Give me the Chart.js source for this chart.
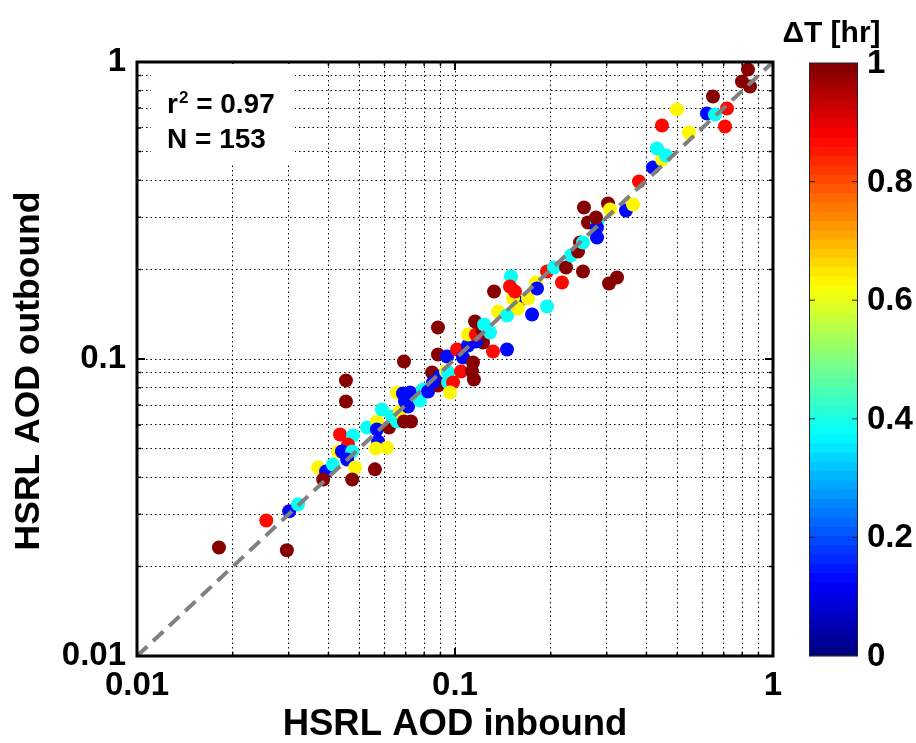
<!DOCTYPE html>
<html>
<head>
<meta charset="utf-8">
<script src="https://cdn.jsdelivr.net/npm/chart.js@4.4.1/dist/chart.umd.min.js"></script>
<style>
  html, body { margin: 0; padding: 0; background: #fff; }
  canvas { display: block; }
</style>
</head>
<body>
<canvas id="c" width="916" height="743"></canvas>
<script>
// ---------------- data ----------------
const inboundAOD = [
  0.0181, 0.0255, 0.0301, 0.0321, 0.0296, 0.0371, 0.0393, 0.0385, 0.0413, 0.0435,
  0.0478, 0.0461, 0.0429, 0.0441, 0.0475, 0.0458, 0.0485, 0.0475, 0.0454, 0.0454,
  0.0529, 0.0568, 0.0568, 0.0573, 0.0564, 0.0611, 0.0560, 0.0589, 0.0620, 0.0634,
  0.0657, 0.0671, 0.0691, 0.0727, 0.0712, 0.0776, 0.0657, 0.0686, 0.0722, 0.0696,
  0.0793, 0.0823, 0.0847, 0.0897, 0.0937, 0.0951, 0.0884, 0.0951, 0.0986, 0.0965,
  0.0853, 0.0691, 0.0884, 0.0944, 0.1015, 0.1060, 0.1139, 0.1044, 0.1131, 0.1147,
  0.1317, 0.1457, 0.0884, 0.1225, 0.1099, 0.1164, 0.1099, 0.1164, 0.1156, 0.1216,
  0.1234, 0.1289, 0.1366, 0.1457, 0.1578, 0.1522, 0.1747, 0.1947, 0.1697, 0.1327,
  0.1500, 0.1489, 0.1544, 0.1798, 0.1811, 0.1947, 0.2048, 0.2234, 0.2170, 0.2526,
  0.2316, 0.2437, 0.2472, 0.2526, 0.2796, 0.2619, 0.2796, 0.2796, 0.2776, 0.2544,
  0.3028, 0.3072, 0.3448, 0.3628, 0.3050, 0.3232, 0.3789, 0.4194, 0.4476, 0.4317,
  0.4608, 0.5442, 0.4476, 0.4990, 0.6200, 0.6570, 0.7165, 0.7063, 0.6475, 0.8344,
  0.7988, 0.8467, 0.1578
];
const outboundAOD = [
  0.0232, 0.0286, 0.0307, 0.0324, 0.0227, 0.0431, 0.0418, 0.0393, 0.0441, 0.0557,
  0.0553, 0.0515, 0.0488, 0.0488, 0.0488, 0.0459, 0.0431, 0.0393, 0.0847, 0.0719,
  0.0588, 0.0616, 0.0579, 0.0528, 0.0500, 0.0503, 0.0425, 0.0676, 0.0588, 0.0640,
  0.0616, 0.0666, 0.0616, 0.0616, 0.0692, 0.0725, 0.0771, 0.0765, 0.0771, 0.0719,
  0.0790, 0.0777, 0.0901, 0.0873, 0.0908, 0.0901, 0.0814, 0.0834, 0.0834, 0.0771,
  0.0834, 0.0981, 0.1035, 0.1019, 0.1076, 0.1012, 0.0973, 0.0908, 0.0908, 0.0853,
  0.1060, 0.1076, 0.1277, 0.1136, 0.1110, 0.1145, 0.1209, 0.1209, 0.1338, 0.1257,
  0.1307, 0.1228, 0.1445, 0.1401, 0.1550, 0.1598, 0.1412, 0.1503, 0.1598, 0.1688,
  0.1896, 0.1754, 0.1688, 0.1810, 0.1728, 0.1971, 0.2033, 0.2033, 0.1810, 0.1971,
  0.2231, 0.2301, 0.2468, 0.2468, 0.2565, 0.2882, 0.2904, 0.2772, 0.2995, 0.3236,
  0.3339, 0.3187, 0.3162, 0.3313, 0.1796, 0.1881, 0.3960, 0.4413, 0.4696, 0.5115,
  0.4844, 0.5788, 0.6111, 0.6921, 0.6709, 0.6657, 0.6974, 0.6064, 0.7653, 0.9435,
  0.8596, 0.8269, 0.1479
];
const deltaT = [
  1.00, 0.87, 0.13, 0.38, 1.00, 0.64, 0.13, 1.00, 0.38, 0.87,
  0.38, 0.87, 0.64, 0.13, 0.38, 0.13, 0.64, 1.00, 1.00, 1.00,
  0.38, 0.64, 0.13, 0.13, 0.64, 0.64, 1.00, 0.38, 1.00, 0.38,
  0.38, 0.64, 1.00, 1.00, 0.13, 0.38, 0.64, 0.13, 0.13, 0.13,
  0.38, 0.13, 1.00, 0.13, 0.64, 0.38, 1.00, 0.38, 0.87, 0.64,
  0.13, 1.00, 1.00, 0.13, 0.87, 0.13, 1.00, 0.87, 1.00, 1.00,
  0.87, 0.13, 1.00, 1.00, 0.13, 0.13, 0.64, 0.87, 1.00, 1.00,
  0.38, 0.38, 0.64, 0.38, 0.13, 0.64, 0.13, 0.38, 0.64, 1.00,
  0.38, 0.87, 0.87, 0.64, 0.13, 0.87, 0.38, 1.00, 0.87, 1.00,
  0.38, 1.00, 1.00, 0.38, 0.13, 1.00, 0.38, 0.13, 1.00, 1.00,
  1.00, 0.64, 0.13, 0.64, 1.00, 1.00, 0.87, 0.13, 0.64, 0.38,
  0.38, 0.64, 0.87, 0.64, 0.13, 0.38, 0.87, 0.87, 1.00, 1.00,
  1.00, 1.00, 0.64
];
const oneToOne = [0.01, 1];
const xTickValues = [0.01, 0.1, 1];
const xTickLabels = ['0.01', '0.1', '1'];
const yTickValues = [0.01, 0.1, 1];
const yTickLabels = ['0.01', '0.1', '1'];
const cbTickValues = [0, 0.2, 0.4, 0.6, 0.8, 1];
const cbTickLabels = ['0', '0.2', '0.4', '0.6', '0.8', '1'];
const xTitle = 'HSRL AOD inbound';
const yTitle = 'HSRL AOD outbound';
const cbTitle = '\u0394T [hr]';
const statR = 'r';
const statSup = '2';
const statRText = ' = 0.97';
const statN = 'N = 153';

// ---------------- helpers ----------------
const FONT = '"Liberation Sans", Arial, Helvetica, sans-serif';
function clamp01(v) { return Math.max(0, Math.min(1, v)); }
function jet(t) {
  const r = clamp01(Math.min(4 * t - 1.5, -4 * t + 4.5));
  const g = clamp01(Math.min(4 * t - 0.5, -4 * t + 3.5));
  const b = clamp01(Math.min(4 * t + 0.5, -4 * t + 2.5));
  return 'rgb(' + Math.round(r * 255) + ',' + Math.round(g * 255) + ',' + Math.round(b * 255) + ')';
}
const NBANDS = 64;
function cmap(v) {
  const k = Math.min(NBANDS - 1, Math.max(0, Math.floor(v * NBANDS)));
  return jet((k + 0.5) / NBANDS);
}
function gridValues(decades) {
  const out = [];
  for (let i = 0; i < decades.length; i++) {
    const d = decades[i];
    out.push(d);
    if (i < decades.length - 1) {
      for (let m = 2; m <= 9; m++) out.push(+(m * d).toPrecision(3));
    }
  }
  return out;
}
function labelFor(values, labels) {
  return (value) => {
    const i = values.findIndex(t => Math.abs(t - value) / t < 1e-6);
    return i >= 0 ? labels[i] : '';
  };
}
const xGrid = gridValues(xTickValues);
const yGrid = gridValues(yTickValues);

const points = inboundAOD.map((x, i) => ({ x: x, y: outboundAOD[i] }));
const pointColors = deltaT.map(cmap);

// ---------------- plugins ----------------
const framePlugin = {
  id: 'frame',
  afterDatasetsDraw(chart) {
    const { ctx, chartArea: a, scales } = chart;
    ctx.save();
    ctx.strokeStyle = '#000';
    // inward ticks
    xGrid.forEach(v => {
      const major = xTickValues.includes(v);
      const px = scales.x.getPixelForValue(v);
      const len = major ? 8 : 4;
      ctx.lineWidth = major ? 2 : 1.5;
      ctx.beginPath();
      ctx.moveTo(px, a.bottom); ctx.lineTo(px, a.bottom - len);
      ctx.moveTo(px, a.top); ctx.lineTo(px, a.top + len);
      ctx.stroke();
    });
    yGrid.forEach(v => {
      const major = yTickValues.includes(v);
      const py = scales.y.getPixelForValue(v);
      const len = major ? 8 : 4;
      ctx.lineWidth = major ? 2 : 1.5;
      ctx.beginPath();
      ctx.moveTo(a.left, py); ctx.lineTo(a.left + len, py);
      ctx.moveTo(a.right, py); ctx.lineTo(a.right - len, py);
      ctx.stroke();
    });
    ctx.lineWidth = 3;
    ctx.strokeRect(a.left, a.top, a.right - a.left, a.bottom - a.top);

    // stats box
    ctx.fillStyle = '#fff';
    ctx.fillRect(a.left + 14, a.top + 2, 144, 100);
    ctx.fillStyle = '#000';
    ctx.textBaseline = 'alphabetic';
    ctx.textAlign = 'left';
    const tx = a.left + 30;
    ctx.font = 'bold 28px ' + FONT;
    ctx.fillText(statR, tx, a.top + 51);
    const rw = ctx.measureText(statR).width;
    ctx.font = 'bold 17px ' + FONT;
    ctx.fillText(statSup, tx + rw + 1, a.top + 41);
    const sw = ctx.measureText(statSup).width;
    ctx.font = 'bold 28px ' + FONT;
    ctx.fillText(statRText, tx + rw + sw + 1, a.top + 51);
    ctx.fillText(statN, tx, a.top + 86);
    ctx.restore();
  }
};

const yTitlePlugin = {
  id: 'ytitle',
  afterDraw(chart) {
    const { ctx, chartArea: a } = chart;
    ctx.save();
    ctx.translate(29, (a.top + a.bottom) / 2 + 12);
    ctx.rotate(-Math.PI / 2);
    ctx.font = 'bold 35.5px ' + FONT;
    ctx.fillStyle = '#000';
    ctx.textAlign = 'center';
    ctx.textBaseline = 'middle';
    ctx.fillText(yTitle, 0, 0);
    ctx.restore();
  }
};

const colorbarPlugin = {
  id: 'colorbar',
  afterDraw(chart) {
    const { ctx, chartArea: a } = chart;
    const left = a.right + 36, width = 49, top = a.top + 1, bottom = a.bottom;
    const h = bottom - top;
    ctx.save();
    for (let k = 0; k < NBANDS; k++) {
      const y1 = bottom - (k + 1) / NBANDS * h;
      const y0 = bottom - k / NBANDS * h;
      ctx.fillStyle = jet((k + 0.5) / NBANDS);
      ctx.fillRect(left, y1 - 0.5, width, y0 - y1 + 1);
    }
    ctx.strokeStyle = '#222';
    ctx.lineWidth = 1;
    ctx.strokeRect(left + 0.5, top + 0.5, width - 1, h - 1);
    ctx.fillStyle = '#000';
    ctx.font = 'bold 33px ' + FONT;
    ctx.textAlign = 'left';
    ctx.textBaseline = 'middle';
    cbTickValues.forEach((v, i) => {
      const y = bottom - v * h;
      if (v > 0 && v < 1) {
        ctx.beginPath();
        ctx.moveTo(left, y); ctx.lineTo(left + 6, y);
        ctx.moveTo(left + width, y); ctx.lineTo(left + width - 6, y);
        ctx.stroke();
      }
      ctx.fillText(cbTickLabels[i], left + width + 9, y + 1);
    });
    ctx.font = 'bold 30px ' + FONT;
    ctx.textAlign = 'center';
    ctx.textBaseline = 'alphabetic';
    ctx.fillText(cbTitle, left + width / 2 - 2, 42);
    ctx.restore();
  }
};

// ---------------- chart ----------------
Chart.defaults.font.family = FONT;
Chart.defaults.color = '#000';

new Chart(document.getElementById('c').getContext('2d'), {
  type: 'scatter',
  data: {
    datasets: [
      {
        type: 'line',
        data: oneToOne.map(v => ({ x: v, y: v })),
        borderColor: '#808080',
        borderWidth: 4,
        borderDash: [14, 8],
        pointRadius: 0,
        fill: false,
        order: 0
      },
      {
        data: points,
        pointBackgroundColor: pointColors,
        pointBorderWidth: 0,
        pointRadius: 7,
        pointHoverRadius: 7,
        order: 1
      }
    ]
  },
  options: {
    responsive: false,
    animation: false,
    events: [],
    layout: { padding: { left: 0, top: 62, right: 143, bottom: 0 } },
    plugins: { legend: { display: false }, tooltip: { enabled: false } },
    scales: {
      x: {
        type: 'logarithmic',
        min: 0.01, max: 1,
        afterBuildTicks: (s) => { s.ticks = xGrid.map(v => ({ value: v, major: xTickValues.includes(v) })); },
        afterFit: (s) => { s.height = 87; },
        grid: { color: '#000', lineWidth: 1, drawTicks: false },
        border: { display: false, dash: [1.5, 3] },
        ticks: {
          autoSkip: false, maxRotation: 0, minRotation: 0, padding: 10,
          font: { size: 33, weight: 'bold', lineHeight: 1.2 },
          callback: labelFor(xTickValues, xTickLabels)
        },
        title: {
          display: true, text: xTitle,
          font: { size: 36.5, weight: 'bold', lineHeight: 1 },
          padding: { top: 0, bottom: 0 }
        }
      },
      y: {
        type: 'logarithmic',
        min: 0.01, max: 1,
        afterBuildTicks: (s) => { s.ticks = yGrid.map(v => ({ value: v, major: yTickValues.includes(v) })); },
        afterFit: (s) => { s.width = 137; },
        grid: { color: '#000', lineWidth: 1, drawTicks: false },
        border: { display: false, dash: [1.5, 3] },
        ticks: {
          autoSkip: false, padding: 11,
          font: { size: 33, weight: 'bold', lineHeight: 1.2 },
          callback: labelFor(yTickValues, yTickLabels)
        },
        title: { display: false }
      }
    }
  },
  plugins: [framePlugin, colorbarPlugin, yTitlePlugin]
});
</script>
</body>
</html>
